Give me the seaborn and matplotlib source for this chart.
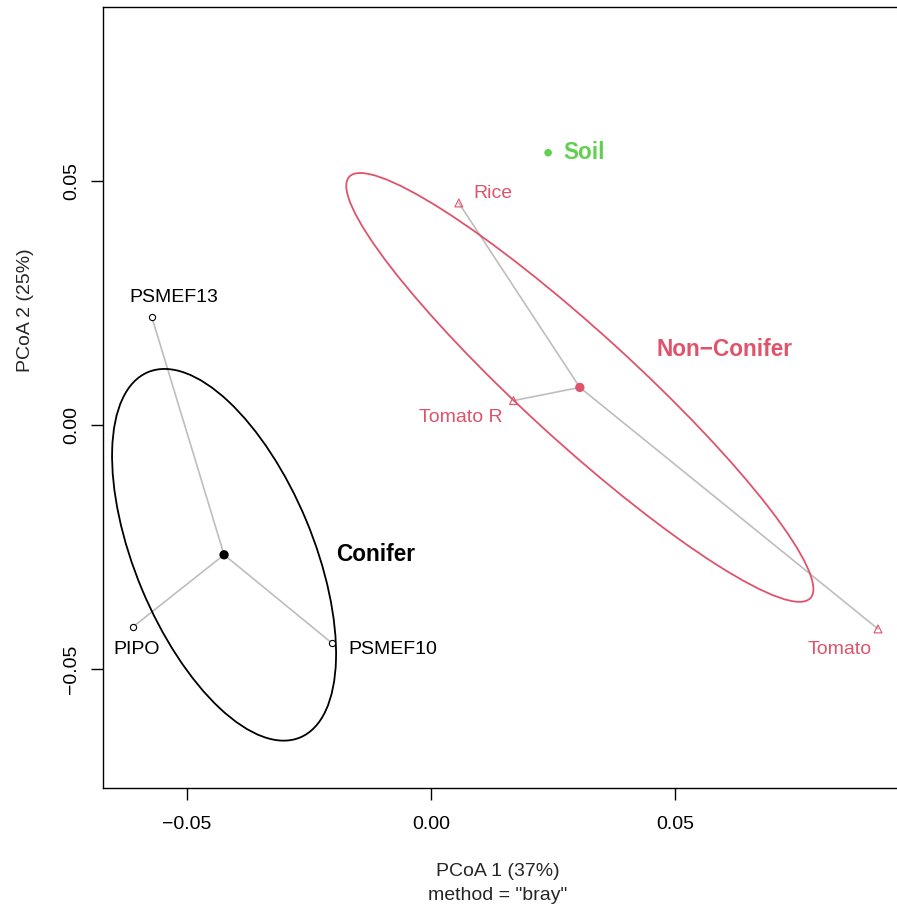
import numpy as np
import pandas as pd
import matplotlib
matplotlib.use("Agg")
import matplotlib.pyplot as plt
from matplotlib.patches import Ellipse
import seaborn as sns

# PCoA site scores (Bray-Curtis)
samples = ["PSMEF13", "PIPO", "PSMEF10", "Rice", "Tomato R", "Tomato"]
groups = ["Conifer", "Conifer", "Conifer", "Non-Conifer", "Non-Conifer", "Non-Conifer"]
pc1 = [-0.0572, -0.0611, -0.0203, 0.0057, 0.0169, 0.0916]
pc2 = [0.0221, -0.0414, -0.0447, 0.0455, 0.0050, -0.0418]

# group centroids
group_names = ["Conifer", "Non-Conifer"]
cent_x = [-0.0424, 0.0305]
cent_y = [-0.0266, 0.0077]

# standard-deviation ellipses: full width, full height, rotation (deg)
ell_w = [0.0811, 0.1280]
ell_h = [0.0365, 0.0224]
ell_angle = [112.6, 137.6]

# lone soil sample
soil_x, soil_y = 0.0240, 0.0558

xlim = (-0.06721, 0.0959)
ylim = (-0.07439, 0.08566)

col = {"Conifer": "black", "Non-Conifer": "#DF536B"}
soil_col = "#61D04F"
spider_col = "#BEBEBE"

sns.set_style("white")
plt.rcParams["font.family"] = ["Liberation Sans", "DejaVu Sans"]

fig = plt.figure(figsize=(8.97, 9.06), dpi=100)
ax = fig.add_axes([103 / 897, 1 - 788 / 906, 796 / 897, 781 / 906])

df = pd.DataFrame({"sample": samples, "group": groups, "x": pc1, "y": pc2})
cent = pd.DataFrame({"group": group_names, "cx": cent_x, "cy": cent_y})
df = df.merge(cent, on="group")

# spider segments from centroid to each site
seg = pd.concat([
    pd.DataFrame({"seg": df["sample"], "x": df["cx"], "y": df["cy"], "end": 0}),
    pd.DataFrame({"seg": df["sample"], "x": df["x"], "y": df["y"], "end": 1}),
]).sort_values(["seg", "end"])
sns.lineplot(data=seg, x="x", y="y", units="seg", estimator=None, sort=False,
             color=spider_col, lw=1.2, ax=ax, legend=False)

# ellipses
for g, cx, cy, w, h, a in zip(group_names, cent_x, cent_y, ell_w, ell_h, ell_angle):
    ax.add_patch(Ellipse((cx, cy), w, h, angle=a, fill=False,
                         edgecolor=col[g], lw=1.3, zorder=3))

# sites
con = df[df["group"] == "Conifer"]
non = df[df["group"] == "Non-Conifer"]
sns.scatterplot(data=con, x="x", y="y", marker="o", s=20, facecolor="white",
                edgecolor="black", linewidth=0.8, ax=ax, zorder=4)
sns.scatterplot(data=non, x="x", y="y", marker="^", s=32, facecolor="none",
                edgecolor=col["Non-Conifer"], linewidth=0.8, ax=ax, zorder=4)

# centroids
sns.scatterplot(data=cent, x="cx", y="cy", hue="group", palette=col, s=45,
                edgecolor="none", legend=False, ax=ax, zorder=5)
sns.scatterplot(x=[soil_x], y=[soil_y], color=soil_col, s=30, edgecolor="none",
                ax=ax, zorder=5)

# site labels (offsets in pixels from each point)
lab_off = {
    "PSMEF13": (22, 20, "center"),
    "PIPO": (4, -22, "center"),
    "PSMEF10": (16, -6, "left"),
    "Rice": (15, 9, "left"),
    "Tomato R": (-53, -17, "center"),
    "Tomato": (-38, -21, "center"),
}
for _, r in df.iterrows():
    dx, dy, ha = lab_off[r["sample"]]
    ax.annotate(r["sample"], (r["x"], r["y"]), xytext=(dx, dy),
                textcoords="offset pixels", ha=ha, va="center",
                fontsize=14, color=col[r["group"]])

# group labels
grp_off = {"Conifer": (152, 0), "Non-Conifer": (145, 38)}
for g, cx, cy in zip(group_names, cent_x, cent_y):
    dx, dy = grp_off[g]
    ax.annotate(g.replace("-", "\u2212"), (cx, cy), xytext=(dx, dy),
                textcoords="offset pixels", ha="center", va="center",
                fontsize=16.3, fontweight="bold", color=col[g])
ax.annotate("Soil", (soil_x, soil_y), xytext=(15, 0), textcoords="offset pixels",
            ha="left", va="center", fontsize=16.3, fontweight="bold", color=soil_col)

ax.set_xlim(*xlim)
ax.set_ylim(*ylim)
ticks = [-0.05, 0.0, 0.05]
ax.set_xticks(ticks)
ax.set_yticks(ticks)
fmt = lambda v: f"{v:.2f}".replace("-", "\u2212")
ax.set_xticklabels([fmt(t) for t in ticks])
ax.set_yticklabels([fmt(t) for t in ticks], rotation=90, va="center")
ax.tick_params(axis="both", direction="out", length=8.5, width=1.0,
               labelsize=14, colors="black",
               bottom=True, left=True, top=False, right=False)
ax.tick_params(axis="x", pad=12)
ax.tick_params(axis="y", pad=8)
for sp in ax.spines.values():
    sp.set_visible(True)
    sp.set_color("black")
    sp.set_linewidth(1.0)

ax.set_xlabel("")
ax.set_ylabel("")
fig.text(498 / 897, 1 - 872 / 906, "PCoA 1 (37%)", ha="center", va="center", fontsize=14)
fig.text(498 / 897, 1 - 895 / 906, 'method = "bray"', ha="center", va="center", fontsize=14)
fig.text(25 / 897, 1 - 310 / 906, "PCoA 2 (25%)", ha="center", va="center",
         rotation=90, fontsize=14)

fig.savefig("out.png", dpi=100, facecolor="white")
